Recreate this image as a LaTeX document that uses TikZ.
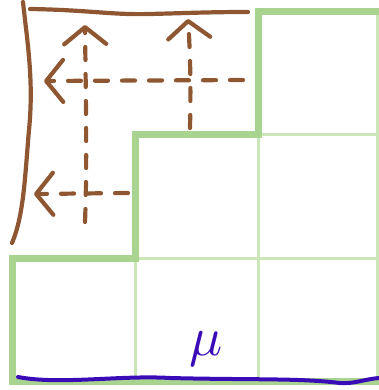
\documentclass[tikz,border=0pt]{standalone}
\usetikzlibrary{arrows.meta}
\definecolor{gthick}{HTML}{A9D48F}
\definecolor{gthin}{HTML}{CBE7B8}
\definecolor{brn}{HTML}{8E5731}
\definecolor{blu}{HTML}{3A0CB8}
\tikzset{
  thinline/.style={draw=gthin, line width=3pt},
  thickline/.style={draw=gthick, line width=7pt, line join=miter},
  frame/.style={draw=brn, line width=4.2pt, line cap=round, line join=round},
  dasharrow/.style={draw=brn, line width=4.2pt, line cap=round,
    dash pattern=on 13pt off 14pt,
    -{Straight Barb[length=17pt,width=42pt,line cap=round,line join=round]}},
  bline/.style={draw=blu, line width=4pt, line cap=round},
}
\begin{document}
\begin{tikzpicture}[x=1pt,y=-1pt]
\useasboundingbox (0,0) rectangle (379,390);
% thin grid
\draw[thinline] (12,258) -- (378,258);
\draw[thinline] (135,135) -- (378,135);
\draw[thinline] (135,258) -- (135,381);
\draw[thinline] (258,135) -- (258,381);
\draw[thinline] (377,12) -- (377,381);
% thick outline
\draw[thickline] (12,381) -- (12,258) -- (135,258) -- (135,135) -- (258,135) -- (258,12) -- (379,12);
\draw[thickline] (9,381) -- (379,381);
% brown frame
\coordinate (tl) at (30,9);
\coordinate (tr) at (248,12);
\coordinate (lt) at (23,2);
\coordinate (lb) at (12,243);
\draw[frame] (tl) .. controls (90,10) and (110,15) .. (150,14) .. controls (190,13) and (210,12) .. (tr);
\draw[frame] (lt) .. controls (27,40) and (34,80) .. (29,130) .. controls (25,175) and (24,215) .. (lb);
% dashed arrows
\coordinate (a1s) at (85,222);
\coordinate (a1e) at (85,25);
\coordinate (a2s) at (190,128);
\coordinate (a2e) at (188,19);
\coordinate (a3s) at (243,80);
\coordinate (a3e) at (44,81);
\coordinate (a4s) at (128,193);
\coordinate (a4e) at (34,194);
\draw[dasharrow] (a1s) .. controls (87,170) and (86,110) .. (a1e);
\draw[dasharrow] (a2s) .. controls (191,80) and (190,50) .. (a2e);
\draw[dasharrow] (a3s) -- (a3e);
\draw[dasharrow] (a4s) -- (a4e);
% blue base line and mu
\coordinate (b1) at (18,377);
\coordinate (b2) at (379,378);
\draw[bline] (b1) .. controls (60,385) and (120,375) .. (170,378) .. controls (250,380) and (300,378) .. (340,383) .. controls (355,384) and (365,379) .. (b2);
\node[text=blu, inner sep=0pt] (mu) at (206,349) {\scalebox{5.5}{$\mu$}};
\end{tikzpicture}
\end{document}
